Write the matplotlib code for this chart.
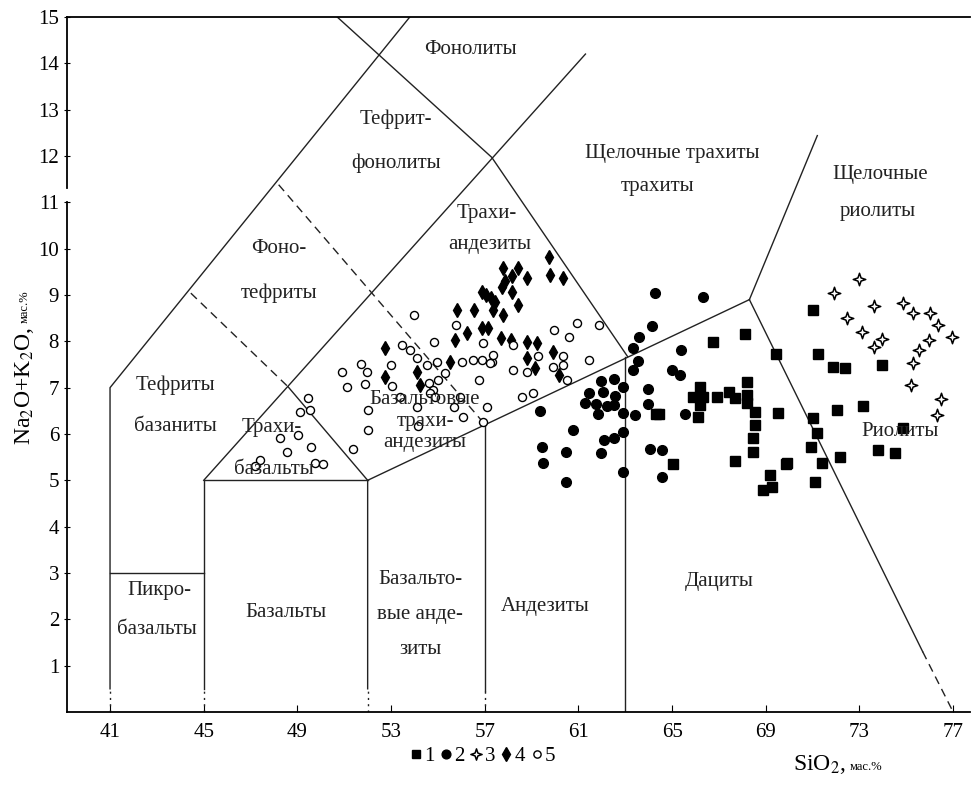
import matplotlib
matplotlib.use('Agg')
import matplotlib.pyplot as plt
from matplotlib.path import Path

plt.rcParams['font.family'] = ['Liberation Serif', 'DejaVu Serif']
plt.rcParams['mathtext.fontset'] = 'stix'

# --- data (SiO2, Na2O+K2O) ---
# 1: filled squares
x1 = [68.1, 66.75, 69.45, 66.2, 68.2, 67.45, 67.7, 65.9, 66.3, 66.9, 68.2, 68.2,
      68.55, 66.2, 66.1, 64.45, 64.3, 69.5, 68.55, 68.45, 68.45, 65.05, 67.7, 69.9,
      69.2, 68.9, 69.25, 71.0, 71.25, 71.85, 72.4, 73.95, 72.05, 73.15, 71.0, 71.2,
      74.85, 70.95, 72.15, 73.8, 74.5, 71.4, 69.85, 71.1]
y1 = [8.16, 7.99, 7.73, 7.02, 7.13, 6.91, 6.78, 6.8, 6.8, 6.8, 6.85, 6.67,
      6.48, 6.63, 6.37, 6.44, 6.44, 6.46, 6.2, 5.92, 5.62, 5.36, 5.42, 5.38,
      5.12, 4.79, 4.86, 8.68, 7.73, 7.45, 7.43, 7.49, 6.52, 6.61, 6.35, 6.03,
      6.13, 5.72, 5.51, 5.66, 5.59, 5.38, 5.36, 4.97]

# 2: filled circles
x2 = [64.25, 66.3, 64.15, 63.6, 63.35, 65.4, 63.55, 63.35, 65.0, 65.35, 61.95, 62.5,
      62.9, 61.45, 62.05, 62.55, 63.95, 61.3, 61.75, 62.2, 62.5, 63.95, 61.85, 62.9,
      63.4, 65.55, 59.35, 60.75, 62.9, 62.5, 62.1, 59.45, 60.45, 61.95, 64.05, 64.55,
      59.5, 62.9, 60.45, 64.55]
y2 = [9.05, 8.96, 8.32, 8.1, 7.86, 7.82, 7.58, 7.39, 7.39, 7.28, 7.15, 7.19,
      7.02, 6.89, 6.91, 6.82, 6.98, 6.67, 6.65, 6.61, 6.63, 6.65, 6.44, 6.46,
      6.41, 6.44, 6.5, 6.09, 6.05, 5.92, 5.87, 5.72, 5.62, 5.59, 5.68, 5.66,
      5.38, 5.18, 4.97, 5.08]

# 3: open four-point stars
x3 = [73.0, 71.9, 73.6, 72.45, 73.1, 73.95, 73.6, 74.85, 75.3, 76.0, 76.35, 76.95,
      75.95, 75.55, 75.3, 75.2, 76.5, 76.3]
y3 = [9.35, 9.05, 8.77, 8.51, 8.21, 8.06, 7.88, 8.83, 8.62, 8.62, 8.36, 8.1,
      8.03, 7.82, 7.54, 7.06, 6.76, 6.41]

# 4: filled diamonds
x4 = [59.75, 57.8, 58.4, 58.15, 58.8, 59.8, 60.35, 57.75, 56.9, 58.15, 57.25, 58.4,
      57.35, 57.8, 55.8, 56.55, 56.9, 57.15, 56.25, 55.75, 57.7, 58.1, 58.8, 59.25,
      59.9, 58.8, 59.15, 60.15, 55.5, 52.75, 52.75, 54.1, 54.25, 57.05, 57.45, 57.85]
y4 = [9.83, 9.59, 9.59, 9.4, 9.37, 9.44, 9.37, 9.18, 9.07, 9.07, 8.94, 8.79,
      8.68, 8.57, 8.68, 8.68, 8.29, 8.29, 8.19, 8.03, 8.08, 8.03, 7.99, 7.97,
      7.78, 7.65, 7.43, 7.28, 7.56, 7.86, 7.24, 7.34, 7.06, 9.0, 8.85, 9.3]

# 5: open circles
x5 = [54.0, 55.77, 53.47, 53.81, 54.83, 54.11, 54.53, 54.96, 52.99, 50.91, 51.72, 51.97,
      51.12, 51.89, 53.04, 54.62, 55.0, 55.3, 53.38, 54.11, 54.79, 55.94, 55.69, 56.07,
      57.1, 56.76, 56.03, 56.5, 56.88, 57.3, 56.93, 52.02, 52.02, 51.38, 54.15, 49.45,
      49.11, 49.54, 48.26, 49.03, 49.58, 48.56, 47.4, 47.2, 49.75, 50.1, 59.96, 60.94,
      60.6, 61.88, 58.2, 59.27, 60.34, 60.34, 59.92, 61.45, 57.35, 57.22, 58.2, 58.8,
      60.5, 58.59, 59.06, 56.93, 54.66, 54.88]
y5 = [8.57, 8.36, 7.93, 7.82, 7.99, 7.65, 7.49, 7.56, 7.49, 7.34, 7.52, 7.34,
      7.02, 7.08, 7.04, 7.11, 7.17, 7.32, 6.8, 6.59, 6.95, 6.8, 6.59, 6.37,
      6.59, 7.17, 7.56, 7.6, 7.6, 7.56, 7.97, 6.52, 6.09, 5.68, 6.18, 6.78,
      6.48, 6.52, 5.92, 5.98, 5.72, 5.62, 5.44, 5.3, 5.38, 5.36, 8.25, 8.4,
      8.1, 8.36, 7.93, 7.69, 7.69, 7.49, 7.45, 7.6, 7.71, 7.54, 7.39, 7.34,
      7.17, 6.8, 6.89, 6.26, 6.89, 6.8]

# --- TAS field boundaries ---
solid_lines = [
    [(41, 0.5), (41, 7), (53.8, 15)],
    [(41, 3), (45, 3)],
    [(45, 0.5), (45, 5), (52, 5)],
    [(45, 5), (61.3, 14.2)],
    [(48.6, 7.02), (52, 5)],
    [(52, 0.5), (52, 5), (68.3, 8.9)],
    [(57, 0.45), (57, 6.2)],
    [(63, 0), (63, 7.67)],
    [(50.7, 15), (57.3, 11.97), (63.1, 7.67)],
    [(68.3, 8.9), (71.2, 12.44)],
    [(68.3, 8.9), (75.7, 1.3)],
]
dashed_lines = [
    [(44.45, 9.04), (48.6, 7.02)],
    [(48.2, 11.38), (56.95, 6.24)],
    [(75.7, 1.3), (77.0, 0)],
]
stub_x = [41, 45, 52, 57]

field_labels = [
    ('Фонолиты', 56.4, 14.3),
    ('Тефрит-', 53.2, 12.8),
    ('фонолиты', 53.2, 11.85),
    ('Щелочные трахиты', 65.0, 12.05),
    ('трахиты', 64.4, 11.35),
    ('Щелочные', 73.9, 11.6),
    ('риолиты', 73.8, 10.8),
    ('Трахи-', 57.1, 10.75),
    ('андезиты', 57.2, 10.1),
    ('Фоно-', 48.2, 10.0),
    ('тефриты', 48.2, 9.03),
    ('Тефриты', 43.8, 7.06),
    ('базаниты', 43.8, 6.16),
    ('Трахи-', 47.9, 6.13),
    ('базальты', 48.0, 5.23),
    ('Базальтовые', 54.45, 6.74),
    ('трахи-', 54.45, 6.27),
    ('андезиты', 54.45, 5.82),
    ('Риолиты', 74.75, 6.05),
    ('Пикро-', 43.1, 2.63),
    ('базальты', 43.0, 1.77),
    ('Базальты', 48.5, 2.14),
    ('Базальто-', 54.25, 2.85),
    ('вые анде-', 54.25, 2.1),
    ('зиты', 54.25, 1.34),
    ('Андезиты', 59.6, 2.27),
    ('Дациты', 67.0, 2.81),
]

fig = plt.figure(figsize=(9.71, 7.98), dpi=100)
ax = fig.add_axes([0.0687, 0.1078, 0.9298, 0.8709])
ax.set_xlim(39.15, 77.7)
ax.set_ylim(0, 15)

for pts in solid_lines:
    xs, ys = zip(*pts)
    ax.plot(xs, ys, color='#222222', lw=1.0)
for pts in dashed_lines:
    xs, ys = zip(*pts)
    ax.plot(xs, ys, color='#222222', lw=1.0, linestyle=(0, (6, 4)))
for sx in stub_x:
    ax.plot([sx, sx], [0, 0.5], color='#222222', lw=1.0, linestyle=(0, (1.5, 3)))

star = Path([(0, 1), (0.25, 0.25), (1, 0), (0.25, -0.25), (0, -1),
             (-0.25, -0.25), (-1, 0), (-0.25, 0.25), (0, 1)], closed=True)

h1, = ax.plot(x1, y1, 's', ms=7, color='black', ls='none', label='1')
h2, = ax.plot(x2, y2, 'o', ms=7, color='black', ls='none', label='2')
h3, = ax.plot(x3, y3, marker=star, ms=9, mfc='white', mec='black', mew=1.1,
              ls='none', label='3')
h4, = ax.plot(x4, y4, 'd', ms=7.5, color='black', ls='none', label='4')
h5, = ax.plot(x5, y5, 'o', ms=5.8, mfc='white', mec='black', mew=1.0,
              ls='none', label='5')

for txt, tx, ty in field_labels:
    ax.text(tx, ty, txt, ha='center', va='center', fontsize=15, color='#222222')

# frame: no right spine, left spine broken near 11
ax.spines['right'].set_visible(False)
ax.spines['left'].set_visible(False)
for sp in ('top', 'bottom'):
    ax.spines[sp].set_linewidth(1.3)
ytr = ax.get_yaxis_transform()
ax.plot([0, 0], [0, 11.0], transform=ytr, color='black', lw=1.3, clip_on=False)
ax.plot([0, 0], [11.3, 15], transform=ytr, color='black', lw=1.3, clip_on=False)

ax.set_xticks(range(41, 78, 4))
ax.set_yticks(range(1, 16))
ax.tick_params(axis='x', direction='in', length=5, labelsize=15, pad=8)
ax.tick_params(axis='y', direction='inout', length=5, labelsize=15, pad=3)

# axis titles
fig.canvas.draw()
r = fig.canvas.get_renderer()
ty = fig.text(25 / 971, 1 - 445 / 798, 'Na$_2$O+K$_2$O,', rotation=90,
              ha='center', va='bottom', fontsize=17)
bb = ty.get_window_extent(r)
fig.text(25 / 971, (bb.y1 + 4) / fig.bbox.height, 'мас.%', rotation=90,
         ha='center', va='bottom', fontsize=9)
tx = fig.text(793 / 971, 1 - 770 / 798, 'SiO$_2$,', ha='left', va='baseline',
              fontsize=17)
bb = tx.get_window_extent(r)
fig.text((bb.x1 + 4) / fig.bbox.width, 1 - 770 / 798, 'мас.%', ha='left',
         va='baseline', fontsize=9)

fig.legend(handles=[h1, h2, h3, h4, h5], loc='center', ncol=5,
           bbox_to_anchor=(482 / 971, 1 - 756 / 798), frameon=False,
           fontsize=15, handlelength=0.7, handletextpad=0.05,
           columnspacing=0.2, borderaxespad=0, markerscale=0.9)

fig.savefig('out.png', dpi=100)
